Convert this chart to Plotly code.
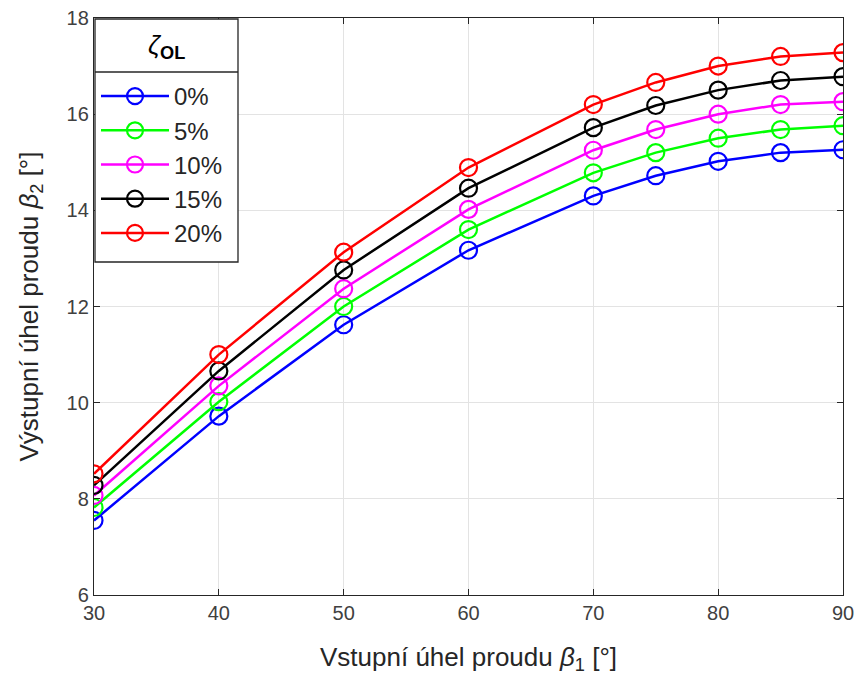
import plotly.graph_objects as go

beta1 = [30, 40, 50, 60, 70, 75, 80, 85, 90]
labels = ["0%", "5%", "10%", "15%", "20%"]
colors = ["#0000ff", "#00ff00", "#ff00ff", "#000000", "#ff0000"]
b2_0 = [7.55, 9.72, 11.62, 13.17, 14.3, 14.72, 15.02, 15.2, 15.26]
b2_5 = [7.82, 10.02, 12.0, 13.6, 14.78, 15.2, 15.5, 15.68, 15.76]
b2_10 = [8.07, 10.35, 12.37, 14.02, 15.25, 15.68, 16.0, 16.2, 16.26]
b2_15 = [8.28, 10.66, 12.76, 14.46, 15.72, 16.18, 16.5, 16.7, 16.78]
b2_20 = [8.52, 11.0, 13.13, 14.89, 16.2, 16.66, 17.0, 17.2, 17.28]
series = [b2_0, b2_5, b2_10, b2_15, b2_20]
legend_title = "<i>ζ</i><sub><b>OL</b></sub>"

fig = go.Figure()
for lab, col, ys in zip(labels, colors, series):
    fig.add_trace(go.Scatter(
        x=beta1, y=ys, name=lab, mode="lines+markers",
        line=dict(color=col, width=2.5),
        marker=dict(symbol="circle-open", size=17, color=col, line=dict(width=2.2, color=col)),
    ))

axis_common = dict(
    showline=True, linecolor="#262626", linewidth=1.3, mirror="ticks",
    ticks="inside", ticklen=6, tickcolor="#262626",
    showgrid=True, gridcolor="#e3e3e3", gridwidth=1, zeroline=False,
    automargin=False,
    tickfont=dict(family="Arial", size=20, color="#404040"),
)

W, H = 858, 678
ML, MR, MT, MB = 94, 15, 18, 83
pw, ph = W - ML - MR, H - MT - MB

def px_x(p):
    return (p - ML) / pw

def px_y(p):
    return (H - MB - p) / ph

fig.update_layout(
    width=W, height=H,
    margin=dict(l=ML, r=MR, t=MT, b=MB),
    paper_bgcolor="white", plot_bgcolor="white",
    font=dict(family="Arial", color="#262626"),
    xaxis=dict(range=[30, 90], tickvals=[30, 40, 50, 60, 70, 80, 90],
               title=dict(text="Vstupní úhel proudu <i>β</i><sub>1</sub> [°]",
                          font=dict(size=26, color="#262626"), standoff=24),
               **axis_common),
    yaxis=dict(range=[6, 18], tickvals=[6, 8, 10, 12, 14, 16, 18],
               title=dict(text="Výstupní úhel proudu <i>β</i><sub>2</sub> [°]",
                          font=dict(size=26, color="#262626"), standoff=20),
               **axis_common),
    legend=dict(
        x=px_x(96), y=px_y(74), xanchor="left", yanchor="top",
        bgcolor="rgba(0,0,0,0)", borderwidth=0,
        font=dict(family="Arial", size=24, color="#262626"),
        itemwidth=68,
    ),
    showlegend=True,
    shapes=[
        dict(type="rect", xref="paper", yref="paper",
             x0=px_x(95), x1=px_x(238), y0=px_y(262), y1=px_y(19),
             fillcolor="white", line=dict(color="#262626", width=1.3), layer="above"),
        dict(type="line", xref="paper", yref="paper",
             x0=px_x(95), x1=px_x(238), y0=px_y(72), y1=px_y(72),
             line=dict(color="#262626", width=1.3), layer="above"),
    ],
    annotations=[
        dict(text=legend_title, xref="paper", yref="paper",
             x=px_x(166), y=px_y(46), xanchor="center", yanchor="middle",
             showarrow=False, font=dict(family="Arial", size=26, color="#000000")),
    ],
)

fig.write_html("out.html")
